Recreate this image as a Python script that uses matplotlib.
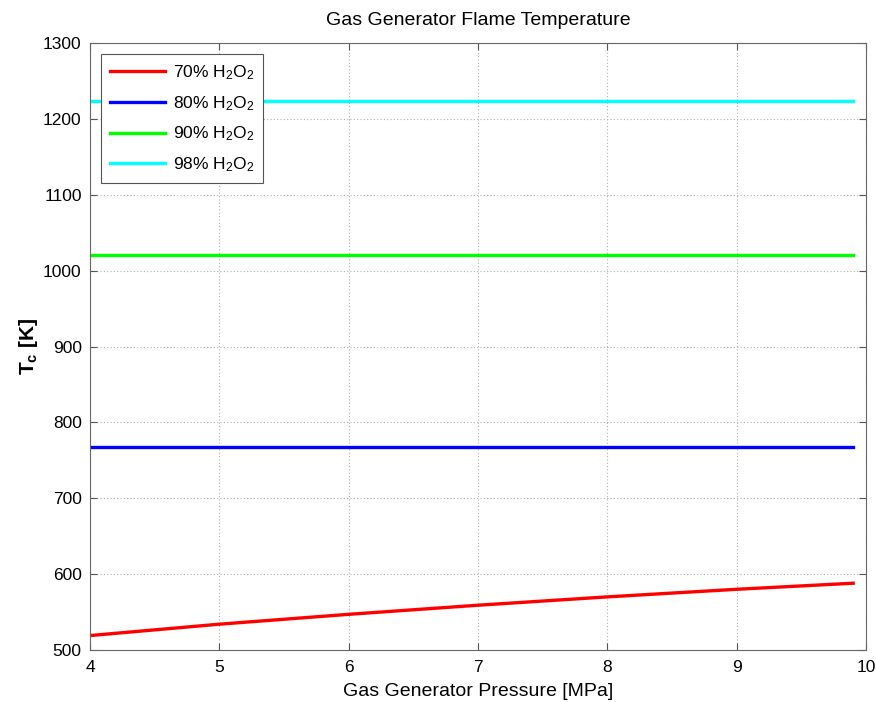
import numpy as np
import matplotlib
matplotlib.use("Agg")
import matplotlib.pyplot as plt

plt.rcParams['font.family'] = ['Liberation Sans', 'DejaVu Sans']
plt.rcParams['mathtext.fontset'] = 'custom'
plt.rcParams['mathtext.rm'] = 'Liberation Sans'
plt.rcParams['mathtext.it'] = 'Liberation Sans'
plt.rcParams['mathtext.bf'] = 'Liberation Sans:bold'

# chamber pressure [MPa]
pressure = [4.0, 5.0, 6.0, 7.0, 8.0, 9.0, 9.9]
# flame temperature [K] for each peroxide concentration
tc_70 = [519, 534, 547, 559, 570, 580, 588]
tc_80 = [767, 767, 767, 767, 767, 767, 767]
tc_90 = [1020, 1020, 1020, 1020, 1020, 1020, 1020]
tc_98 = [1224, 1224, 1224, 1224, 1224, 1224, 1224]
labels = ["70% H$_2$O$_2$", "80% H$_2$O$_2$", "90% H$_2$O$_2$", "98% H$_2$O$_2$"]

fig = plt.figure(figsize=(8.76, 7.02), dpi=100)
ax = fig.add_axes([0.1027, 0.0741, 0.886, 0.8646])

ax.plot(pressure, tc_70, color=(1, 0, 0), lw=2.4, label=labels[0])
ax.plot(pressure, tc_80, color=(0, 0, 1), lw=2.4, label=labels[1])
ax.plot(pressure, tc_90, color=(0, 1, 0), lw=2.4, label=labels[2])
ax.plot(pressure, tc_98, color=(0, 1, 1), lw=2.4, label=labels[3])

ax.set_xlim(4, 10)
ax.set_ylim(500, 1300)
ax.set_xticks(range(4, 11))
ax.set_yticks(range(500, 1301, 100))
ax.grid(True, color='#b0b0b0', linestyle=(0, (1, 2)), linewidth=0.8)
ax.tick_params(direction='in', top=True, right=True, labelsize=12.5, length=5,
               color='#555555')
ax.tick_params(axis='x', pad=7)
ax.tick_params(axis='y', pad=6)
for s in ax.spines.values():
    s.set_color('#666666')

ax.set_title("Gas Generator Flame Temperature", fontsize=14, pad=13)
ax.set_xlabel("Gas Generator Pressure [MPa]", fontsize=14, labelpad=6)
ax.set_ylabel("$\\mathbf{T_c}$ [K]", fontsize=15, fontweight='bold', labelpad=2)

leg = ax.legend(loc='upper left', fontsize=12.5, fancybox=False, framealpha=1,
                edgecolor='#555555', handlelength=3.2, handletextpad=0.45,
                borderaxespad=0.65, labelspacing=0.7, borderpad=0.5)
leg.get_frame().set_linewidth(0.8)

fig.savefig("out.png", dpi=100)
